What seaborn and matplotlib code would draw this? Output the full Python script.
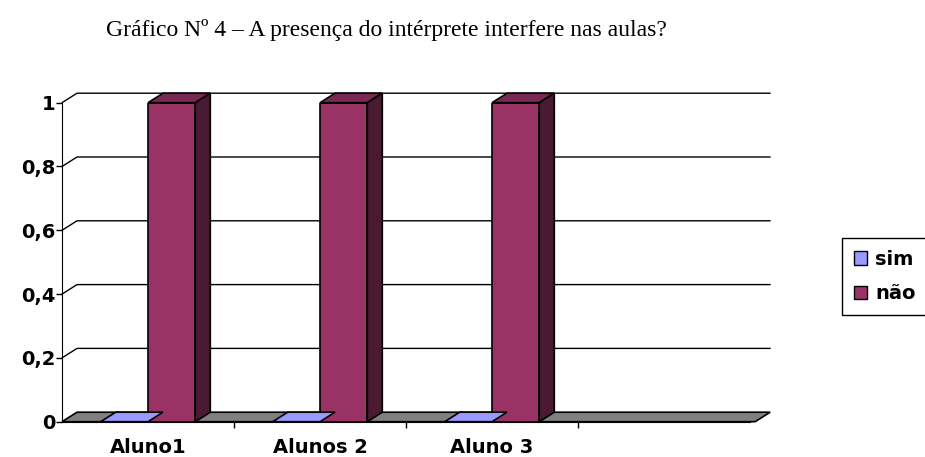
import pandas as pd
import numpy as np
import matplotlib
matplotlib.use('Agg')
import matplotlib.pyplot as plt
import seaborn as sns
from matplotlib.patches import Polygon, Patch

# data
alunos = ['Aluno1', 'Alunos 2', 'Aluno 3']
sim = [0, 0, 0]
nao = [1, 1, 1]
yticks = [0, 0.2, 0.4, 0.6, 0.8, 1.0]
ytick_labels = ['0', '0,2', '0,4', '0,6', '0,8', '1']
titulo = 'Gráfico Nº 4 – A presença do intérprete interfere nas aulas?'

cores = {'sim': '#9999FF', 'não': '#993366'}
topo = {'sim': '#8080E0', 'não': '#7A2952'}
lado = {'sim': '#5050A0', 'não': '#4A1A33'}

df = pd.DataFrame({
    'aluno': alunos * 2,
    'resposta': ['sim'] * 3 + ['não'] * 3,
    'valor': sim + nao,
})

sns.set_style('white')
plt.rcParams['font.family'] = ['DejaVu Sans']
plt.rcParams['text.color'] = 'black'
plt.rcParams['xtick.color'] = 'black'
plt.rcParams['ytick.color'] = 'black'

W, H = 925, 457
fig = plt.figure(figsize=(W / 100, H / 100), dpi=100)
ax = fig.add_axes([62 / W, 1 - 421.7 / H, 688 / W, 319 / H])

sns.barplot(data=df, x='aluno', y='valor', hue='resposta', order=alunos,
            hue_order=['sim', 'não'], palette=cores, saturation=1, width=0.55,
            edgecolor='black', linewidth=1.2, ax=ax, legend=False, zorder=3)

ax.set_xlim(-0.5, 3.5)
ax.set_ylim(0, 1)

# 3d depth in data units
ddx = 15 / 172
ddy = 9.5 / 319

# floor
ax.add_patch(Polygon([(-0.5, 0), (3.53, 0), (3.53 + ddx, ddy), (-0.5 + ddx, ddy)],
                     closed=True, facecolor='#808080', edgecolor='black',
                     linewidth=1.2, zorder=1, clip_on=False))

# back wall gridlines
for y in yticks[1:]:
    ax.plot([-0.5, -0.5 + ddx, 3.53 + ddx], [y, y + ddy, y + ddy],
            color='black', linewidth=1, zorder=0.5, clip_on=False)

# bar faces
ordem = ['sim'] * 3 + ['não'] * 3
for p, r in zip(ax.patches, ordem):
    x0 = p.get_x()
    x1 = x0 + p.get_width()
    h = p.get_height()
    ax.add_patch(Polygon([(x0, h), (x1, h), (x1 + ddx, h + ddy), (x0 + ddx, h + ddy)],
                         closed=True, facecolor=topo[r] if h > 0 else cores[r],
                         edgecolor='black', linewidth=1.2, zorder=4, clip_on=False))
    if h > 0:
        ax.add_patch(Polygon([(x1, 0), (x1, h), (x1 + ddx, h + ddy), (x1 + ddx, ddy)],
                             closed=True, facecolor=lado[r], edgecolor='black',
                             linewidth=1.2, zorder=4, clip_on=False))

sns.despine(ax=ax, top=True, right=True)
ax.spines['left'].set_color('black')
ax.spines['bottom'].set_color('black')
ax.spines['left'].set_zorder(5)

ax.set_yticks(yticks)
ax.set_yticklabels(ytick_labels, fontsize=14, fontweight='bold')
ax.tick_params(axis='y', left=True, length=4, width=1, color='black', pad=0.5)

ax.set_xticks(range(3))
ax.set_xticklabels(alunos, fontsize=14, fontweight='bold')
ax.set_xticks([0.5, 1.5, 2.5], minor=True)
ax.tick_params(axis='x', which='major', length=0, pad=12)
ax.tick_params(axis='x', which='minor', bottom=True, length=4, width=1, color='black')
ax.set_xlabel('')
ax.set_ylabel('')

fig.text(386 / W, 1 - 30 / H, titulo, ha='center', va='center',
         family='Liberation Serif', fontsize=17)

handles = [Patch(facecolor=cores['sim'], edgecolor='black', label='sim'),
           Patch(facecolor=cores['não'], edgecolor='black', label='não')]
leg = fig.legend(handles=handles, loc='upper left',
                 bbox_to_anchor=(842 / W, 1 - 238 / H), frameon=True,
                 fancybox=False, framealpha=1, edgecolor='black',
                 handlelength=0.7, handleheight=0.7, handletextpad=0.4,
                 borderpad=0.6, labelspacing=0.8, borderaxespad=0,
                 prop={'size': 14, 'weight': 'bold'})

fig.savefig('out.png', dpi=100)
